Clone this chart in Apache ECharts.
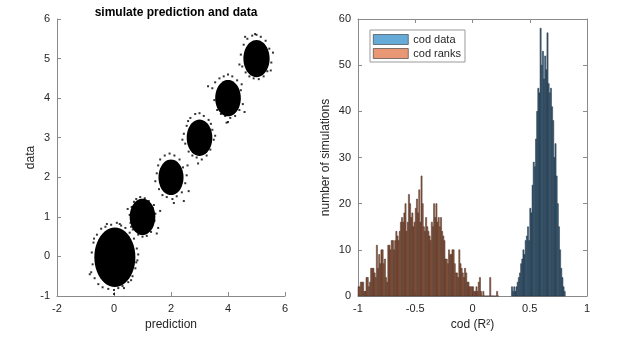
<!DOCTYPE html>
<html>
<head>
<meta charset="utf-8">
<script src="https://cdn.jsdelivr.net/npm/echarts@6/dist/echarts.min.js"></script>
<style>
  html, body { margin: 0; padding: 0; background: #fff; }
  #chart { width: 617px; height: 349px; }
</style>
</head>
<body>
<div id="chart"></div>
<script>
  // left panel: simulated clusters (centre + core spread, data units)
  let clusterCenters = [[0.03, -0.02], [1, 1], [2, 2], [3, 3], [4, 4], [5, 5]];
  let clusterSpreadX = [0.72, 0.45, 0.44, 0.45, 0.45, 0.46];
  let clusterSpreadY = [0.75, 0.46, 0.45, 0.46, 0.46, 0.47];

  // stray points around the clusters
  let fringePoints = [
    [-0.8, -0.4], [-0.78, 0.1], [-0.75, -0.2], [-0.72, 0.35], [-0.68, -0.55], [-0.6, 0.55], [-0.55, -0.7],
    [-0.45, 0.7], [-0.4, -0.78], [-0.3, 0.75], [-0.2, -0.82], [-0.1, 0.8], [0.0, -0.85], [0.1, 0.85],
    [0.15, -0.8], [0.25, 0.78], [0.3, -0.75], [0.4, 0.72], [0.5, -0.65], [0.55, 0.6], [0.65, -0.5],
    [0.7, 0.45], [0.75, -0.3], [0.8, 0.2], [0.82, -0.1], [0.85, 0.05], [0.0, -0.95], [0.6, -0.6],
    [-0.7, 0.45], [0.2, 0.82], [-0.85, -0.45], [0.78, -0.15], [-0.25, 0.82], [0.35, -0.8],
    [0.55, 1.05], [0.58, 0.85], [0.62, 1.25], [0.66, 0.68], [0.7, 1.38], [0.78, 1.45], [0.85, 0.55],
    [0.92, 1.5], [1.0, 0.5], [1.08, 1.47], [1.15, 0.52], [1.22, 1.4], [1.3, 0.62], [1.36, 1.22],
    [1.42, 0.9], [1.45, 1.08], [1.55, 0.72], [1.62, 1.15], [0.48, 1.2], [1.5, 0.58], [0.6, 0.75], [1.4, 1.3],
    [1.45, 1.9], [1.55, 2.3], [1.58, 1.7], [1.62, 2.45], [1.7, 1.55], [1.78, 2.55], [1.85, 1.5],
    [1.95, 2.6], [2.05, 1.45], [2.12, 2.55], [2.2, 1.52], [2.3, 2.45], [2.38, 1.62], [2.42, 2.25],
    [2.5, 1.85], [2.55, 2.05], [2.62, 1.65], [2.45, 1.4], [1.65, 2.2], [2.1, 1.35], [1.5, 2.1], [2.58, 2.3],
    [2.45, 3.1], [2.5, 2.85], [2.55, 3.3], [2.62, 2.65], [2.68, 3.5], [2.75, 2.55], [2.85, 3.6],
    [2.9, 2.5], [3.0, 3.62], [3.08, 2.45], [3.15, 3.55], [3.25, 2.55], [3.32, 3.45], [3.38, 2.7],
    [3.45, 3.2], [3.5, 2.95], [2.95, 2.35], [3.4, 3.35], [2.6, 3.42], [3.55, 3.05], [2.4, 2.95],
    [3.45, 4.25], [3.52, 3.95], [3.55, 4.4], [3.62, 3.7], [3.7, 4.5], [3.75, 3.6], [3.85, 4.55],
    [3.9, 3.55], [4.0, 4.6], [4.08, 3.5], [4.15, 4.55], [4.25, 3.55], [4.32, 4.45], [4.4, 3.7],
    [4.45, 4.2], [4.52, 3.85], [4.58, 3.65], [3.95, 3.38], [4.0, 3.4], [3.3, 4.3], [4.48, 4.35],
    [4.45, 5.1], [4.5, 4.8], [4.55, 5.35], [4.62, 4.65], [4.68, 5.5], [4.75, 4.55], [4.85, 5.58],
    [4.9, 4.5], [5.0, 5.6], [5.08, 4.48], [5.15, 5.55], [5.25, 4.55], [5.32, 5.45], [5.38, 4.68],
    [5.45, 5.25], [5.52, 4.9], [5.58, 5.15], [4.6, 5.55], [4.4, 4.85], [5.5, 4.7], [4.95, 5.62]
  ];

  // right panel: histograms, bins of 0.01
  let binWidth = 0.01;
  let rankStart = -1.0;
  let rankCounts = [
    2, 2, 3, 3, 3, 1, 1, 4, 4, 2,
    3, 6, 6, 6, 5, 4, 11, 6, 9, 7,
    10, 10, 7, 8, 4, 3, 11, 11, 10, 12,
    12, 10, 12, 14, 13, 12, 14, 16, 17, 16,
    18, 20, 14, 16, 22, 20, 17, 18, 15, 16,
    19, 21, 18, 23, 16, 26, 20, 15, 14, 17,
    15, 14, 13, 12, 16, 15, 20, 17, 20, 16,
    17, 15, 17, 14, 13, 12, 8, 8, 7, 10,
    9, 9, 10, 10, 7, 5, 5, 4, 10, 7,
    6, 5, 4, 6, 5, 3, 3, 2, 2, 2,
    2, 1, 1, 2, 1, 3, 4, 1, 0, 1,
    0, 0, 0, 0, 0, 4, 0, 0, 0, 0,
    0, 1, 0
  ];
  let dataStart = 0.34;
  let dataCounts = [
    2, 1, 2, 1, 2, 3, 4, 5, 7, 8,
    10, 9, 12, 13, 15, 12, 19, 18, 24, 29,
    28, 34, 40, 45, 44, 58, 50, 53, 47, 52,
    49, 57, 46, 44, 45, 41, 38, 30, 33, 26,
    20, 15, 10, 6, 4, 2, 1
  ];

  let leftXTicks = { min: -2, max: 6, interval: 2 };
  let leftYTicks = { min: -1, max: 6, interval: 1 };
  let rightXTicks = { min: -1, max: 1, interval: 0.5 };
  let rightYTicks = { min: 0, max: 60, interval: 10 };

  let font = 'Liberation Sans, Arial, sans-serif';
  let axisColor = '#8a8a8a';
  let textColor = '#262626';

  function toBins(start, counts) {
    return counts.map((c, i) => [start + i * binWidth, start + (i + 1) * binWidth, c]);
  }

  function renderBlob(params, api) {
    let cx = api.value(0), cy = api.value(1), rx = api.value(2), ry = api.value(3);
    let pts = [];
    for (let k = 0; k < 48; k++) {
      let a = k / 48 * Math.PI * 2;
      pts.push(api.coord([cx + rx * Math.cos(a), cy + ry * Math.sin(a)]));
    }
    return { type: 'polygon', shape: { points: pts }, style: { fill: '#000' } };
  }

  function barRenderer(fill, stroke) {
    return function (params, api) {
      let p0 = api.coord([api.value(0), api.value(2)]);
      let p1 = api.coord([api.value(1), 0]);
      return {
        type: 'rect',
        shape: { x: p0[0], y: p0[1], width: p1[0] - p0[0], height: p1[1] - p0[1] },
        style: { fill: fill, stroke: stroke, lineWidth: 0.5 }
      };
    };
  }

  function axisBase(extra) {
    return Object.assign({
      type: 'value',
      axisLine: { show: true, onZero: false, lineStyle: { color: axisColor, width: 1 } },
      axisTick: { show: true, inside: true, length: 4, lineStyle: { color: axisColor } },
      splitLine: { show: false },
      axisLabel: { color: textColor, fontSize: 11, fontFamily: font, margin: 7 },
      nameTextStyle: { color: textColor, fontSize: 12, fontFamily: font }
    }, extra);
  }

  let chart = echarts.init(document.getElementById('chart'));

  let option = {
    animation: false,
    title: {
      text: 'simulate prediction and data',
      left: 171,
      top: 2,
      textAlign: 'center',
      textStyle: { fontSize: 12, fontWeight: 'bold', color: '#000', fontFamily: font }
    },
    legend: {
      orient: 'vertical',
      left: 370,
      top: 30,
      padding: [4, 4, 3, 3],
      itemGap: 3,
      itemWidth: 35,
      itemHeight: 10,
      borderColor: '#9a9a9a',
      borderWidth: 1,
      backgroundColor: '#fff',
      textStyle: { fontSize: 11, color: textColor, fontFamily: font },
      data: [
        { name: 'cod data', icon: 'rect', itemStyle: { color: '#66aad7', borderColor: '#333', borderWidth: 0.6 } },
        { name: 'cod ranks', icon: 'rect', itemStyle: { color: '#e89875', borderColor: '#333', borderWidth: 0.6 } }
      ]
    },
    grid: [
      { left: 57, right: 332, top: 19, bottom: 53 },
      { left: 358, right: 30, top: 19, bottom: 53 }
    ],
    xAxis: [
      axisBase(Object.assign({ gridIndex: 0, name: 'prediction', nameLocation: 'middle', nameGap: 22 }, leftXTicks)),
      axisBase(Object.assign({ gridIndex: 1, name: 'cod (R²)', nameLocation: 'middle', nameGap: 22 }, rightXTicks)),
      axisBase(Object.assign({ gridIndex: 1, position: 'top', axisLabel: { show: false } }, rightXTicks))
    ],
    yAxis: [
      axisBase(Object.assign({ gridIndex: 0, name: 'data', nameLocation: 'middle', nameGap: 20 }, leftYTicks)),
      axisBase(Object.assign({ gridIndex: 1, name: 'number of simulations', nameLocation: 'middle', nameGap: 26 }, rightYTicks)),
      axisBase(Object.assign({ gridIndex: 1, position: 'right', axisLabel: { show: false } }, rightYTicks))
    ],
    series: [
      {
        type: 'custom',
        xAxisIndex: 0, yAxisIndex: 0,
        renderItem: renderBlob,
        data: clusterCenters.map((c, i) => [c[0], c[1], clusterSpreadX[i], clusterSpreadY[i]]),
        silent: true
      },
      {
        type: 'scatter',
        xAxisIndex: 0, yAxisIndex: 0,
        symbol: 'rect',
        symbolSize: 2,
        itemStyle: { color: '#000' },
        data: fringePoints,
        silent: true
      },
      {
        name: 'cod data',
        type: 'custom',
        xAxisIndex: 1, yAxisIndex: 1,
        renderItem: barRenderer('#3a6587', '#1e2c38'),
        itemStyle: { color: '#66aad7' },
        encode: { x: [0, 1], y: 2 },
        data: toBins(dataStart, dataCounts)
      },
      {
        name: 'cod ranks',
        type: 'custom',
        xAxisIndex: 1, yAxisIndex: 1,
        renderItem: barRenderer('#a85f3e', '#3a2820'),
        itemStyle: { color: '#e89875' },
        encode: { x: [0, 1], y: 2 },
        data: toBins(rankStart, rankCounts)
      }
    ]
  };

  chart.setOption(option);
</script>
</body>
</html>
